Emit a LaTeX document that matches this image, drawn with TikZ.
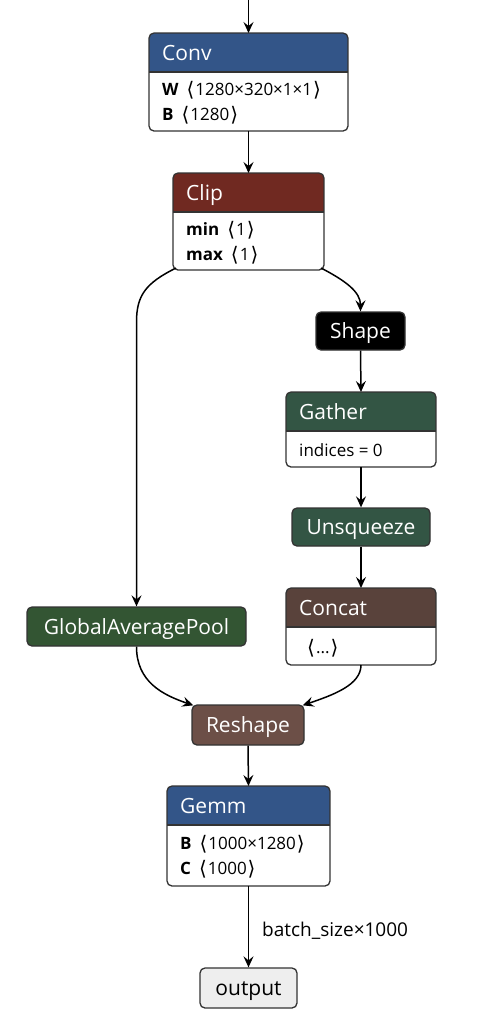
\documentclass[tikz,border=0pt]{standalone}
\usepackage{fontspec}
\setmainfont{Open Sans}
\newfontfamily\symf{DejaVu Sans}
\usetikzlibrary{arrows.meta}
\definecolor{layerc}{RGB}{51,85,136}
\definecolor{activc}{RGB}{112,41,33}
\definecolor{transfc}{RGB}{51,85,68}
\definecolor{poolc}{RGB}{51,85,51}
\definecolor{tensorc}{RGB}{89,66,59}
\definecolor{shapec}{RGB}{108,79,71}
\definecolor{bordc}{RGB}{51,51,51}
\definecolor{outc}{RGB}{238,238,238}
\newcommand{\LAng}{\raisebox{-1.2pt}{\symf\fontsize{20}{20}\selectfont ⟨}\hspace{1pt}}
\newcommand{\RAng}{\hspace{1pt}\raisebox{-1.2pt}{\symf\fontsize{20}{20}\selectfont ⟩}}
\tikzset{
  edge/.style={line width=1.5pt, -{Stealth[length=11pt,width=10pt,inset=4pt]}},
  ttl/.style={text=white, font=\fontsize{21}{24}\selectfont, inner sep=0pt, anchor=west, text height=15pt, text depth=0pt},
  attr/.style={text=black, font=\fontsize{17}{19}\selectfont, inner sep=0pt, anchor=west, text height=12.1pt, text depth=0pt},
  simple/.style={draw=bordc, line width=1.3pt, rounded corners=5pt, text=white, font=\fontsize{21}{24}\selectfont, inner sep=0pt, text height=15pt, text depth=0pt},
  elabel/.style={text=black, font=\fontsize{19}{22}\selectfont, inner sep=0pt, anchor=base west},
}
% #1 name, #2 cx, #3 cy, #4 w, #5 h, #6 header h, #7 color, #8 title
\newcommand{\opnode}[8]{%
  \node[minimum width=#4pt, minimum height=#5pt, inner sep=0pt, outer sep=0pt] (#1) at (#2,#3) {};
  \begin{scope}
    \clip[rounded corners=5pt] (#1.north west) rectangle (#1.south east);
    \fill[white] (#1.north west) rectangle (#1.south east);
    \fill[#7] (#1.north west) rectangle ([yshift=-#6pt]#1.north east);
  \end{scope}
  \draw[bordc, line width=1.3pt] ([yshift=-#6pt]#1.north west) -- ([yshift=-#6pt]#1.north east);
  \draw[bordc, line width=1.3pt, rounded corners=5pt] (#1.north west) rectangle (#1.south east);
  \node[ttl] (#1-t) at ([xshift=13pt,yshift=-#6pt/2]#1.north west) {#8};
}
\begin{document}
\begin{tikzpicture}[x=1pt,y=-1pt]
\useasboundingbox (0,0) rectangle (485,1029);
\fill[white] (0,0) rectangle (485,1029);

\opnode{conv}{248.5}{82}{199}{98}{39}{layerc}{Conv}
\node[attr] (conv-a) at (162,89) {\textbf{W}\hspace{8pt}\LAng1280×320×1×1\RAng};
\node[attr] (conv-b) at (162,114) {\textbf{B}\hspace{8pt}\LAng1280\RAng};

\opnode{clip}{248.5}{221.5}{151}{97}{39}{activc}{Clip}
\node[attr] (clip-a) at (186,229) {\textbf{min}\hspace{8pt}\LAng1\RAng};
\node[attr] (clip-b) at (186,254) {\textbf{max}\hspace{8pt}\LAng1\RAng};

\node[simple, fill=black, minimum width=89pt, minimum height=38pt] (shape) at (360.5,331) {Shape};

\opnode{gather}{361}{429.5}{150}{75}{39}{transfc}{Gather}
\node[attr] (gather-a) at (299,450) {indices = 0};

\node[simple, fill=transfc, minimum width=138pt, minimum height=38pt] (unsq) at (361,527) {Unsqueeze};

\opnode{concat}{361}{626.5}{150}{77}{39}{tensorc}{Concat}
\node[attr] (concat-a) at (307,647) {\LAng...\RAng};

\node[simple, fill=poolc, minimum width=219pt, minimum height=39pt] (gap) at (136.5,626.5) {GlobalAveragePool};

\node[simple, fill=shapec, minimum width=112pt, minimum height=40pt] (reshape) at (248,725) {Reshape};

\opnode{gemm}{248.5}{836}{163}{100}{39}{layerc}{Gemm}
\node[attr] (gemm-a) at (180,843) {\textbf{B}\hspace{8pt}\LAng1000×1280\RAng};
\node[attr] (gemm-b) at (180,868) {\textbf{C}\hspace{8pt}\LAng1000\RAng};

\node[simple, fill=outc, text=black, minimum width=97pt, minimum height=40pt] (out) at (248.5,988) {output};

\coordinate (in) at (248.5,0);
\draw[edge] (in) -- (conv.north);
\draw[edge] (conv.south) -- (clip.north);
\draw[edge] ([xshift=3pt,yshift=2pt]clip.south west) .. controls (146,283) and (136.5,295) .. (136.5,322) -- (gap.north);
\draw[edge] ([xshift=-3pt,yshift=2pt]clip.south east) .. controls (346,281) and (360.5,292) .. (shape.north);
\draw[edge] (shape.south) -- (gather.north);
\draw[edge] (gather.south) -- (unsq.north);
\draw[edge] (unsq.south) -- (concat.north);
\draw[edge] (gap.south) .. controls (136.5,682) and (163,695) .. ([xshift=2pt,yshift=-1pt]reshape.north west);
\draw[edge] (concat.south) .. controls (361,685) and (333,695) .. ([xshift=-2pt,yshift=-1pt]reshape.north east);
\draw[edge] (reshape.south) -- (gemm.north);
\draw[edge] (gemm.south) -- (out.north);
\node[elabel] (lbl) at (262,936) {batch\_size×1000};
\end{tikzpicture}
\end{document}
